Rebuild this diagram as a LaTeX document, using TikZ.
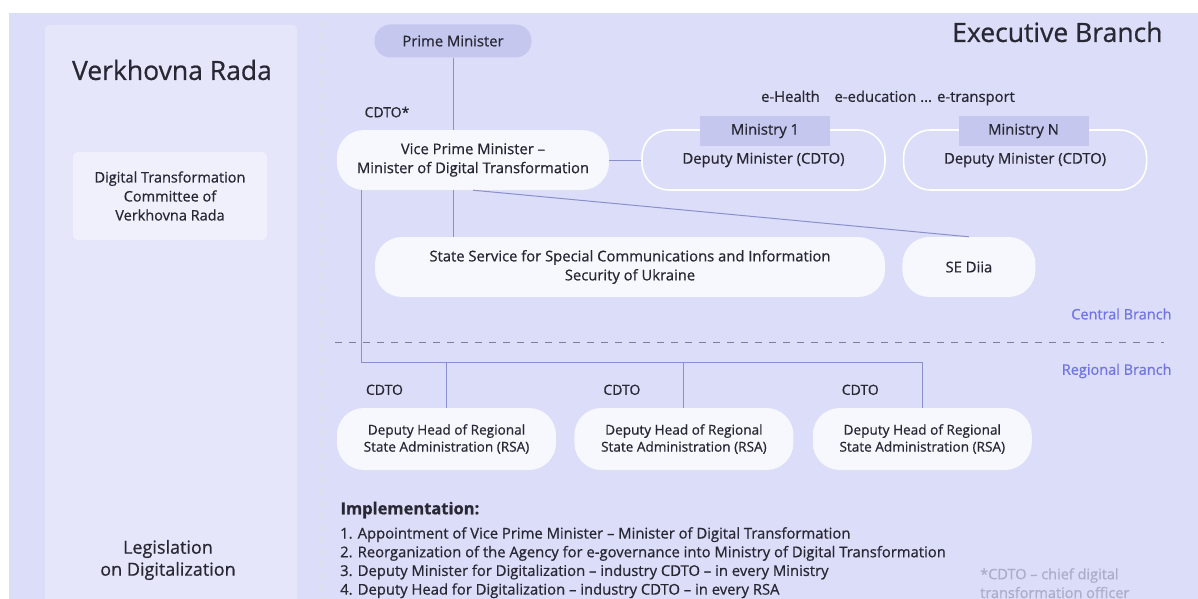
\documentclass[tikz,border=0pt]{standalone}
\usepackage{fontspec}
\setmainfont{Open Sans}[FakeBold=0.7]
\usetikzlibrary{positioning, calc}
\definecolor{bgcol}{RGB}{220,221,248}
\definecolor{panelcol}{RGB}{229,230,250}
\definecolor{darkcol}{RGB}{197,199,238}
\definecolor{nodecol}{RGB}{247,247,254}
\definecolor{boxcol}{RGB}{239,240,252}
\definecolor{linecol}{RGB}{140,143,205}
\definecolor{txtcol}{RGB}{40,40,52}
\definecolor{bluecol}{RGB}{112,117,226}
\definecolor{notecol}{RGB}{172,173,200}
\definecolor{dashcol}{RGB}{125,127,155}
\begin{document}
\begin{tikzpicture}[x=1pt, y=-1pt, text=txtcol, font=\fontsize{14.8}{19}\selectfont,
pill/.style={rectangle, rounded corners=27pt, fill=nodecol, align=center, inner sep=0pt, minimum height=60pt},
outl/.style={rectangle, rounded corners=27pt, draw=white, line width=1.6pt, align=center, inner sep=0pt, minimum width=243pt, minimum height=60pt},
tabbox/.style={rectangle, fill=darkcol, inner sep=0pt, minimum width=130pt, minimum height=29pt},
rsa/.style={pill, minimum width=219pt, minimum height=62pt, font=\fontsize{13.6}{17}\selectfont},
line/.style={-, linecol, line width=1pt},
head/.style={font=\fontsize{26.5}{30}\selectfont},
small/.style={font=\fontsize{14}{17}\selectfont},
branch/.style={anchor=east, text=bluecol, font=\fontsize{14.5}{17}\selectfont}]
\useasboundingbox (0,0) rectangle (1198,599);
\fill[white] (0,0) rectangle (1198,599);
\fill[bgcol] (9,13) rectangle (1198,599);
\fill[panelcol, rounded corners=4pt] (45,25) rectangle (297,620);
\draw[dashcol!25, dashed, dash pattern=on 7pt off 5pt] (322,20) -- (322,599);

\node (rada) [head] at (172,70) {Verkhovna Rada};
\node (cttee) [rectangle, rounded corners=5pt, fill=boxcol, align=center, minimum width=194pt, minimum height=88pt, font=\fontsize{14.5}{19}\selectfont] at (170,196) {Digital Transformation\\Committee of\\Verkhovna Rada};
\node (legis) [align=center, font=\fontsize{18}{22}\selectfont] at (168,560) {Legislation\\on Digitalization};

\node (exec) [head, anchor=east] at (1166,32) {Executive Branch};
\node (pm) [pill, fill=darkcol, minimum width=157pt, minimum height=33pt, rounded corners=16pt] at (453,41) {Prime Minister};
\node (vpm) [pill, minimum width=272pt] at (473,160) {Vice Prime Minister –\\Minister of Digital Transformation};
\node (cdto) [small] at (387,112) {CDTO*};

\node (ehealth) at (888,98) {e-Health\quad e-education ... e-transport};
\node (min1) [outl] at (763.5,160) {\raisebox{-3pt}{Deputy Minister (CDTO)}};
\node (minN) [outl, right=17pt of min1] {\raisebox{-3pt}{Deputy Minister (CDTO)}};
\node (tab1) [tabbox] at (765,131) {Ministry 1};
\node (tabN) [tabbox] at (1023.5,131) {Ministry N};

\node (ssc) [pill, minimum width=510pt] at (630,267) {State Service for Special Communications and Information\\Security of Ukraine};
\node (diia) [pill, minimum width=133pt, right=17pt of ssc] {SE Diia};

\node (central) [branch] at (1175,314) {Central Branch};
\node (regional) [branch] at (1175,371) {Regional Branch};

\node (rsa1) [rsa] at (446.5,439) {Deputy Head of Regional\\State Administration (RSA)};
\node (rsa2) [rsa, right=18pt of rsa1] {Deputy Head of Regional\\State Administration (RSA)};
\node (rsa3) [rsa, right=19pt of rsa2] {Deputy Head of Regional\\State Administration (RSA)};
\node (c1) [small] at ($(rsa1.north)+(-62,-18)$) {CDTO};
\node (c2) [small] at ($(rsa2.north)+(-62,-18)$) {CDTO};
\node (c3) [small] at ($(rsa3.north)+(-62,-18)$) {CDTO};
\coordinate (rl) at (361,362);

  \begin{scope}
    \draw [line] (pm) -- (pm |- vpm.north);
    \draw [line] (vpm) -- (min1);
    \draw [line] (vpm.south -| pm) -- (ssc.north -| pm);
    \draw [line] (vpm.south) -- (diia.north);
    \draw [line] (vpm.south -| rl) -- (rl) -- (rl -| rsa3.north) -- (rsa3.north);
    \draw [line] (rsa1.north) -- (rsa1.north |- rl);
    \draw [line] (rsa2.north) -- (rsa2.north |- rl);
    \draw [dashcol, line width=0.8pt, dash pattern=on 7pt off 7pt] (335,342) -- (1164,342);
  \end{scope}

\node (impl) [anchor=west, font=\fontsize{16.5}{20}\selectfont\bfseries] at (337,510) {Implementation:};
\node (list) [anchor=north west, align=left, inner sep=0pt, font=\fontsize{14.8}{18.7}\selectfont] at (340,527) {1. Appointment of Vice Prime Minister – Minister of Digital Transformation\\2. Reorganization of the Agency for e-governance into Ministry of Digital Transformation\\3. Deputy Minister for Digitalization – industry CDTO – in every Ministry\\4. Deputy Head for Digitalization – industry CDTO – in every RSA};
\node (note) [anchor=north west, align=left, inner sep=0pt, text=notecol, font=\fontsize{14.5}{18.7}\selectfont] at (980,568) {*CDTO – chief digital\\transformation officer};
\end{tikzpicture}
\end{document}
